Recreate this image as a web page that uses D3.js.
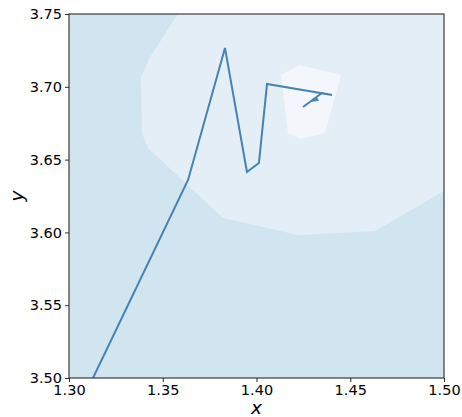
<!DOCTYPE html>
<html>
<head>
<meta charset="utf-8">
<script src="https://cdn.jsdelivr.net/npm/d3@7"></script>
<style>
  html, body { margin: 0; padding: 0; background: #fff; }
  text { font-family: "DejaVu Sans", sans-serif; fill: #000; }
</style>
</head>
<body>
<div id="chart"></div>
<script>
// ---- data ----
const xTicks = [1.30, 1.35, 1.40, 1.45, 1.50];
const yTicks = [3.50, 3.55, 3.60, 3.65, 3.70, 3.75];

// filled contour regions (data coordinates), lowest level first
const levelColors = ["#d1e5f0", "#e4eef7", "#f3f7fc"];
const contourMid = [
  [1.3581, 3.75], [1.3432, 3.7205], [1.3384, 3.7067], [1.3389, 3.6683],
  [1.3421, 3.6580], [1.3821, 3.6099], [1.4221, 3.5982], [1.4632, 3.6010],
  [1.50, 3.6284], [1.50, 3.75]
];
const contourInner = [
  [1.4131, 3.7081], [1.4227, 3.7150], [1.4451, 3.7081], [1.4365, 3.6683],
  [1.4232, 3.6641], [1.4168, 3.6683]
];

// optimisation path
const pathX = [1.3128, 1.3635, 1.3832, 1.3949, 1.4013, 1.4056, 1.4403, 1.4349, 1.4248];
const pathY = [3.5000, 3.6360, 3.7267, 3.6415, 3.6477, 3.7019, 3.6944, 3.6957, 3.6861];

// ---- layout ----
const W = 462, H = 417;
const m = { left: 69, right: 18, top: 14, bottom: 39 };
const pw = W - m.left - m.right, ph = H - m.top - m.bottom;

const svg = d3.select("#chart").append("svg").attr("width", W).attr("height", H);
const x = d3.scaleLinear().domain([1.30, 1.50]).range([m.left, m.left + pw]);
const y = d3.scaleLinear().domain([3.50, 3.75]).range([m.top + ph, m.top]);

svg.append("clipPath").attr("id", "clip").append("rect")
  .attr("x", m.left).attr("y", m.top).attr("width", pw).attr("height", ph);

const g = svg.append("g").attr("clip-path", "url(#clip)");
g.append("rect").attr("x", m.left).attr("y", m.top).attr("width", pw).attr("height", ph)
  .attr("fill", levelColors[0]);

const poly = d3.line().x(d => x(d[0])).y(d => y(d[1]));
[contourMid, contourInner].forEach((p, i) => {
  g.append("path").attr("d", poly(p) + "Z").attr("fill", levelColors[i + 1]);
});

const pts = pathX.map((v, i) => [v, pathY[i]]);
g.append("path").attr("d", poly(pts)).attr("fill", "none")
  .attr("stroke", "#4682b4").attr("stroke-width", 2).attr("stroke-linejoin", "miter");

// half arrow head on the last segment
{
  const a = pts[pts.length - 2], b = pts[pts.length - 1];
  const ax = x(a[0]), ay = y(a[1]), bx = x(b[0]), by = y(b[1]);
  const len = Math.hypot(bx - ax, by - ay);
  const ux = (bx - ax) / len, uy = (by - ay) / len;
  const tx = ax + ux * len * 0.6, ty = ay + uy * len * 0.6;
  const L = 7, Wd = 4;
  const backX = tx - ux * L, backY = ty - uy * L;
  const px = -uy, py = ux;
  g.append("path")
    .attr("d", `M${tx},${ty}L${backX},${backY}L${backX - px * Wd},${backY - py * Wd}Z`)
    .attr("fill", "#4682b4").attr("stroke", "#4682b4").attr("stroke-width", 0.8);
}

// axes
const axisColor = "#2b2b2b";
const xAxis = svg.append("g").attr("transform", `translate(0,${m.top + ph})`)
  .call(d3.axisBottom(x).tickValues(xTicks).tickFormat(d3.format(".2f")).tickSizeOuter(0).tickSize(4).tickPadding(3));
const yAxis = svg.append("g").attr("transform", `translate(${m.left},0)`)
  .call(d3.axisLeft(y).tickValues(yTicks).tickFormat(d3.format(".2f")).tickSizeOuter(0).tickSize(4).tickPadding(3));
[xAxis, yAxis].forEach(a => {
  a.select(".domain").remove();
  a.selectAll("line").attr("stroke", axisColor).attr("stroke-width", 1);
  a.selectAll("text").attr("font-family", "DejaVu Sans").attr("font-size", 14.5).attr("fill", "#000");
});

svg.append("rect").attr("x", m.left).attr("y", m.top).attr("width", pw).attr("height", ph)
  .attr("fill", "none").attr("stroke", axisColor).attr("stroke-width", 1.1);

svg.append("text").attr("x", m.left + pw / 2).attr("y", 414).attr("text-anchor", "middle")
  .attr("font-size", 18.5).attr("font-style", "italic").text("x");
svg.append("text").attr("transform", `translate(23,${m.top + ph / 2}) rotate(-90)`)
  .attr("text-anchor", "middle").attr("font-size", 18.5).attr("font-style", "italic").text("y");
</script>
</body>
</html>
